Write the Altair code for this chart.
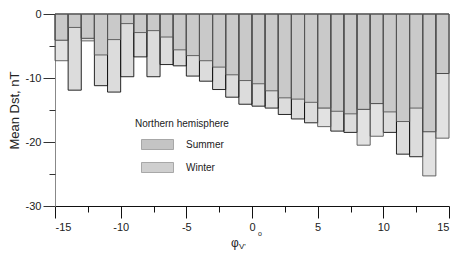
import altair as alt
import pandas as pd

# bin left edges of phi_V (degrees), width 1
starts = list(range(-15, 15))
summer = [-4.1, -11.9, -3.8, -11.2, -12.2, -9.8, -6.7, -9.8, -7.9, -8.1,
          -9.7, -10.5, -11.8, -13.0, -14.1, -14.4, -14.7, -15.7, -16.4, -17.0,
          -14.7, -18.3, -18.5, -14.9, -14.0, -18.5, -21.9, -22.3, -18.4, -9.3]
winter = [-7.3, -2.1, -4.2, -6.4, -4.0, -1.5, -2.9, -2.6, -3.6, -5.6,
          -6.5, -7.3, -8.3, -9.5, -10.4, -10.9, -12.0, -13.1, -13.3, -13.8,
          -17.6, -15.2, -15.6, -20.5, -19.1, -15.3, -16.8, -14.7, -25.3, -19.4]
seasons = ["Summer", "Winter"]
x_major = [-15, -10, -5, 0, 5, 10, 15]
x_minor = [-12.5, -7.5, -2.5, 2.5, 7.5, 12.5]
y_major = [0, -10, -20, -30]
y_minor = [-5, -15, -25]

df_s = pd.DataFrame({"start": starts, "end": [s + 1 for s in starts],
                     "value": summer, "season": "Summer"})
df_w = pd.DataFrame({"start": starts, "end": [s + 1 for s in starts],
                     "value": winter, "season": "Winter"})

FONT = "Liberation Sans"
xs = alt.Scale(domain=[-15, 15], nice=False, zero=False)
ys = alt.Scale(domain=[-30, 0], nice=False)
cs = alt.Scale(domain=seasons, range=["#8a8a8a", "#a0a0a0"])

legend = alt.Legend(
    orient="none", legendX=80, legendY=105, title="Northern hemisphere",
    titleFontSize=10, titleFontWeight="normal", titleFont=FONT, titleColor="#222",
    labelFontSize=10, labelFont=FONT, labelColor="#222",
    symbolType="M0.2,-1H6.6V1H0.2Z", symbolSize=100,
    symbolStrokeColor="#333", symbolStrokeWidth=0.8, symbolOpacity=0.5,
    labelOffset=40, rowPadding=8, titlePadding=10, padding=0,
)

summer_layer = alt.Chart(df_s).mark_rect(
    fillOpacity=0.3, stroke="#111", strokeWidth=0.9
).encode(
    x=alt.X("start:Q", scale=xs, axis=alt.Axis(
        values=x_major, tickSize=12, labelFontSize=11, labelFont=FONT,
        labelColor="#222", title=None, domainColor="#111", tickColor="#111",
        labelPadding=3, grid=False, labelExpr="'' + datum.value", orient="bottom")),
    x2="end:Q",
    y=alt.Y("value:Q", scale=ys, axis=alt.Axis(
        values=y_major, tickSize=12, labelFontSize=11, labelFont=FONT,
        labelColor="#222", title="Mean Dst, nT", titleFontSize=13,
        titleFont=FONT, titleFontWeight="normal", titleColor="#222",
        titlePadding=4, domainColor="#888", tickColor="#333",
        labelPadding=2, grid=False, labelExpr="'' + datum.value", orient="left")),
    y2=alt.datum(0),
    color=alt.Color("season:N", scale=cs, legend=legend),
)

winter_layer = alt.Chart(df_w).mark_rect(
    fillOpacity=0.3, stroke="#555", strokeWidth=0.9
).encode(
    x=alt.X("start:Q", scale=xs, axis=alt.Axis(
        values=x_minor, tickSize=6, labels=False, domain=False, title=None,
        tickColor="#111", grid=False, orient="bottom")),
    x2="end:Q",
    y=alt.Y("value:Q", scale=ys, axis=alt.Axis(
        values=y_minor, tickSize=6, labels=False, domain=False, title=None,
        tickColor="#333", grid=False, orient="left")),
    y2=alt.datum(0),
    color=alt.Color("season:N", scale=cs, legend=legend),
)

phi = alt.Chart(pd.DataFrame({"t": ["φ"]})).mark_text(
    font=FONT, fontSize=12, align="left", baseline="middle", color="#222"
).encode(text="t:N", x=alt.value(176), y=alt.value(229))
sub = alt.Chart(pd.DataFrame({"t": ["V'"]})).mark_text(
    font=FONT, fontSize=8, align="left", baseline="middle", color="#222"
).encode(text="t:N", x=alt.value(184), y=alt.value(233))
deg = alt.Chart(pd.DataFrame({"t": ["o"]})).mark_text(
    font=FONT, fontSize=7, align="left", baseline="middle", color="#222"
).encode(text="t:N", x=alt.value(203), y=alt.value(220))

chart = alt.layer(summer_layer, winter_layer, phi, sub, deg).resolve_axis(
    x="independent", y="independent"
).properties(
    width=394, height=192, padding={"left": 0, "top": 0, "right": 0, "bottom": 0}
).configure_view(stroke=None)

chart.save("out.html", embed_options={"renderer": "svg", "actions": False})
